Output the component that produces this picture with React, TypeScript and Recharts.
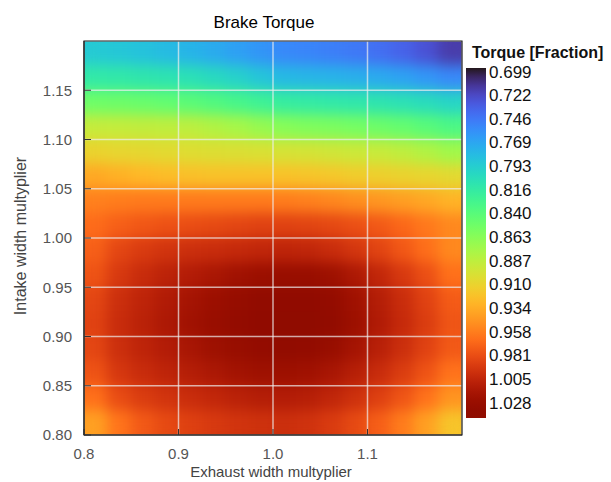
import React from 'react';
import { ScatterChart, Scatter, XAxis, YAxis, CartesianGrid, ReferenceArea } from 'recharts';

// cell centres of the sampled grid
const exhaustX = [0.8125, 0.8375, 0.8625, 0.8875, 0.9125, 0.9375, 0.9625, 0.9875, 1.0125, 1.0375, 1.0625, 1.0875, 1.1125, 1.1375, 1.1625, 1.1875];
const intakeY = [1.1875, 1.1625, 1.1375, 1.1125, 1.0875, 1.0625, 1.0375, 1.0125, 0.9875, 0.9625, 0.9375, 0.9125, 0.8875, 0.8625, 0.8375, 0.8125];

// brake torque fraction, one row per intake value (top to bottom)
const torqueGrid = [
  [0.790, 0.788, 0.785, 0.781, 0.777, 0.772, 0.766, 0.760, 0.754, 0.752, 0.749, 0.746, 0.741, 0.735, 0.727, 0.716],
  [0.814, 0.813, 0.811, 0.809, 0.806, 0.801, 0.795, 0.787, 0.780, 0.778, 0.776, 0.774, 0.771, 0.767, 0.761, 0.754],
  [0.851, 0.850, 0.848, 0.845, 0.841, 0.836, 0.830, 0.824, 0.818, 0.816, 0.814, 0.812, 0.810, 0.807, 0.803, 0.798],
  [0.890, 0.889, 0.888, 0.887, 0.886, 0.881, 0.876, 0.869, 0.862, 0.859, 0.857, 0.854, 0.850, 0.846, 0.840, 0.833],
  [0.910, 0.908, 0.907, 0.905, 0.903, 0.902, 0.901, 0.900, 0.898, 0.897, 0.895, 0.893, 0.891, 0.887, 0.881, 0.874],
  [0.935, 0.931, 0.927, 0.924, 0.922, 0.921, 0.921, 0.921, 0.921, 0.920, 0.918, 0.915, 0.913, 0.911, 0.909, 0.906],
  [0.956, 0.958, 0.959, 0.959, 0.959, 0.959, 0.959, 0.959, 0.958, 0.956, 0.953, 0.949, 0.945, 0.941, 0.936, 0.930],
  [0.966, 0.972, 0.976, 0.979, 0.981, 0.983, 0.985, 0.987, 0.987, 0.986, 0.984, 0.980, 0.975, 0.968, 0.960, 0.952],
  [0.972, 0.985, 0.991, 0.995, 0.998, 1.000, 1.002, 1.004, 1.005, 1.004, 1.000, 0.994, 0.986, 0.976, 0.965, 0.952],
  [0.978, 0.992, 1.000, 1.006, 1.011, 1.016, 1.021, 1.025, 1.027, 1.027, 1.023, 1.014, 1.003, 0.992, 0.980, 0.964],
  [0.985, 0.998, 1.005, 1.012, 1.019, 1.025, 1.030, 1.034, 1.036, 1.036, 1.032, 1.022, 1.010, 0.999, 0.987, 0.974],
  [0.987, 1.000, 1.007, 1.014, 1.021, 1.027, 1.032, 1.036, 1.038, 1.038, 1.034, 1.024, 1.012, 1.001, 0.990, 0.977],
  [0.985, 0.998, 1.005, 1.011, 1.017, 1.023, 1.028, 1.032, 1.034, 1.033, 1.028, 1.019, 1.008, 0.998, 0.987, 0.975],
  [0.978, 0.993, 1.000, 1.005, 1.010, 1.015, 1.020, 1.023, 1.024, 1.022, 1.017, 1.009, 1.000, 0.990, 0.978, 0.963],
  [0.964, 0.982, 0.990, 0.995, 0.999, 1.003, 1.007, 1.010, 1.011, 1.009, 1.004, 0.997, 0.988, 0.977, 0.963, 0.946],
  [0.940, 0.962, 0.975, 0.983, 0.988, 0.992, 0.995, 0.997, 0.998, 0.996, 0.991, 0.983, 0.972, 0.958, 0.940, 0.920],
];

const xTicks = [0.8, 0.9, 1.0, 1.1];
const yTicks = [0.8, 0.85, 0.9, 0.95, 1.0, 1.05, 1.1, 1.15];
const colorTicks = ['0.699', '0.722', '0.746', '0.769', '0.793', '0.816', '0.840', '0.863', '0.887', '0.910', '0.934', '0.958', '0.981', '1.005', '1.028'];

const COLOR_MIN = 0.695;
const COLOR_MAX = 1.043;
const DOMAIN: [number, number] = [0.8, 1.2];

const FONT = '"Liberation Sans", Arial, sans-serif';
const W = 611;
const H = 482;
const PLOT_LEFT = 84;
const PLOT_TOP = 41;
const PLOT_W = 378;
const PLOT_H = 394;

// turbo colormap (polynomial fit)
const turbo = (t: number) => {
  const s = Math.max(0, Math.min(1, t));
  const r = 0.13572138 + s * (4.6153926 + s * (-42.66032258 + s * (132.13108234 + s * (-152.94239396 + s * 59.28637943))));
  const g = 0.09140261 + s * (2.19418839 + s * (4.84296658 + s * (-14.18503333 + s * (4.27729857 + s * 2.82956604))));
  const b = 0.1066733 + s * (12.64194608 + s * (-60.58204836 + s * (110.36276771 + s * (-89.90310912 + s * 27.34824973))));
  const c = (v: number) => Math.round(Math.max(0, Math.min(1, v)) * 255);
  return `rgb(${c(r)},${c(g)},${c(b)})`;
};
const colorOf = (v: number) => turbo((v - COLOR_MIN) / (COLOR_MAX - COLOR_MIN));

const cells = torqueGrid.flatMap((row, r) =>
  row.map((v, c) => ({ x: exhaustX[c], y: intakeY[r], v })),
);

const cellW = (PLOT_W * (exhaustX[1] - exhaustX[0])) / (DOMAIN[1] - DOMAIN[0]);
const cellH = (PLOT_H * (intakeY[0] - intakeY[1])) / (DOMAIN[1] - DOMAIN[0]);

const Cell = (props: any) => {
  const { cx, cy, payload } = props;
  if (cx == null || cy == null) return null;
  return (
    <rect
      x={cx - cellW / 2 - 0.5}
      y={cy - cellH / 2 - 0.5}
      width={cellW + 1}
      height={cellH + 1}
      fill={colorOf(payload.v)}
    />
  );
};

const tickStyle = { fill: '#555', fontSize: 15, fontFamily: FONT };

const ColorBar = () => {
  const barX = 466;
  const barY = 68;
  const barH = 350;
  const stops = Array.from({ length: 41 }, (_, i) => i / 40);
  const labelTop = 72;
  const labelStep = (403 - 72) / (colorTicks.length - 1);
  return (
    <g>
      <defs>
        <linearGradient id="cbar" x1="0" y1="0" x2="0" y2="1">
          {stops.map((t) => (
            <stop key={t} offset={t} stopColor={turbo(t)} />
          ))}
        </linearGradient>
      </defs>
      <rect x={barX} y={barY} width={20} height={barH} fill="url(#cbar)" />
      {colorTicks.map((t, i) => (
        <text
          key={t}
          x={489}
          y={labelTop + i * labelStep}
          dominantBaseline="central"
          fontSize={17}
          fontFamily={FONT}
          fill="#111"
        >
          {t}
        </text>
      ))}
    </g>
  );
};

export default function App() {
  return (
    <div style={{ position: 'absolute', left: 0, top: 0, width: W, height: H, background: '#fff' }}>
      <style>{`.recharts-scatter { filter: url(#heatBlur); }`}</style>
      <ScatterChart width={W} height={H} margin={{ top: PLOT_TOP, right: W - PLOT_LEFT - PLOT_W, bottom: 0, left: 0 }}>
        <defs>
          <filter id="heatBlur" x="0" y="0" width="1" height="1" colorInterpolationFilters="sRGB">
            <feGaussianBlur stdDeviation="7" edgeMode="duplicate" />
            <feComponentTransfer>
              <feFuncA type="table" tableValues="1 1" />
            </feComponentTransfer>
          </filter>
        </defs>
        <Scatter data={cells} shape={Cell} isAnimationActive={false} />
        <CartesianGrid stroke="#eeeeee" strokeOpacity={0.7} strokeWidth={1.5} zIndex={650} />
        <ReferenceArea x1={0.8} x2={1.2} y1={0.8} y2={1.2} fill="none" stroke="#222" strokeWidth={1.2} zIndex={660} />
        <XAxis
          dataKey="x"
          type="number"
          domain={DOMAIN}
          ticks={xTicks}
          tickFormatter={(v: number) => v.toFixed(1)}
          height={H - PLOT_TOP - PLOT_H}
          tickSize={-6}
          tickMargin={19}
          tick={tickStyle}
          axisLine={{ stroke: '#222' }}
          tickLine={{ stroke: '#333' }}
          allowDataOverflow
          zIndex={700}
        />
        <YAxis
          dataKey="y"
          type="number"
          domain={DOMAIN}
          ticks={yTicks}
          tickFormatter={(v: number) => v.toFixed(2)}
          width={PLOT_LEFT}
          tickSize={-7}
          tickMargin={19}
          tick={tickStyle}
          axisLine={{ stroke: '#222' }}
          tickLine={{ stroke: '#333' }}
          allowDataOverflow
          zIndex={700}
        />
      </ScatterChart>
      <svg width={W} height={H} style={{ position: 'absolute', left: 0, top: 0, pointerEvents: 'none' }}>
        <text x={264} y={28} textAnchor="middle" fontSize={17} fontFamily={FONT} fill="#000">
          Brake Torque
        </text>
        <text x={472} y={58} fontSize={16} fontWeight="bold" fontFamily={FONT} fill="#111">
          Torque [Fraction]
        </text>
        <text x={271} y={477} textAnchor="middle" fontSize={15} fontFamily={FONT} fill="#444">
          Exhaust width multyplier
        </text>
        <text
          x={20}
          y={236}
          textAnchor="middle"
          dominantBaseline="central"
          transform="rotate(-90 20 236)"
          fontSize={16}
          fontFamily={FONT}
          fill="#444"
        >
          Intake width multyplier
        </text>
        <ColorBar />
      </svg>
    </div>
  );
}
